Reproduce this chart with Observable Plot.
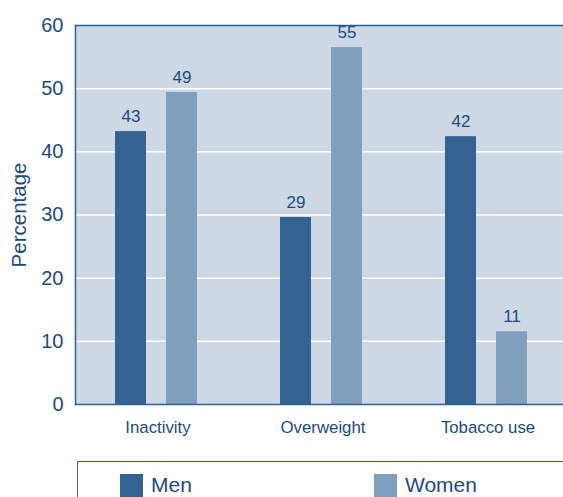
<!DOCTYPE html>
<html>
<head>
<meta charset="utf-8">
<script src="https://cdn.jsdelivr.net/npm/d3@7"></script>
<script src="https://cdn.jsdelivr.net/npm/@observablehq/plot@0.6"></script>
<style>
  body { margin: 0; background: #fff; font-family: "Liberation Sans", Arial, sans-serif; overflow: hidden; }
  #legend { margin-left: 77px; margin-top: 16px; border-top: 1.5px solid #2f5f93; border-left: 1.5px solid #2f5f93; height: 60px; position: relative; }
  .item { position: absolute; top: 11px; display: flex; align-items: center; font-size: 21px; color: #1c4a80; }
  .sw { width: 23px; height: 23px; margin-right: 8px; }
</style>
</head>
<body>
<div id="chart"></div>
<div id="legend"></div>
<script>
const categories = ["Inactivity", "Overweight", "Tobacco use"];
const menValues = [43.2, 29.6, 42.4];
const womenValues = [49.4, 56.5, 11.5];
const menLabels = ["43", "29", "42"];
const womenLabels = ["49", "55", "11"];
const yTicks = [0, 10, 20, 30, 40, 50, 60];
const series = ["Men", "Women"];
const colors = ["#346291", "#809fbc"];

const men = categories.map((c, i) => ({cat: c, value: menValues[i], label: menLabels[i]}));
const women = categories.map((c, i) => ({cat: c, value: womenValues[i], label: womenLabels[i]}));

const W = 563, H = 445, ML = 75, XR = 570;
const bw = (XR - ML) / 3;
const textColor = "#1c4a80";
const border = "#2f5f93";

const chart = Plot.plot({
  width: W, height: H,
  marginLeft: ML, marginRight: 0, marginTop: 25, marginBottom: H - 404,
  style: {fontFamily: "Liberation Sans, Arial, sans-serif", color: textColor, background: "#fff", overflow: "hidden"},
  x: {domain: categories, padding: 0, label: null, range: [ML, XR]},
  y: {domain: [0, 60], label: null},
  marks: [
    Plot.frame({fill: "#cdd8e4", stroke: null}),
    Plot.ruleY(yTicks.filter(d => d > 0 && d < 60), {stroke: "#fff", strokeWidth: 1.5}),
    Plot.barY(men, {x: "cat", y: "value", fill: colors[0], insetLeft: 40, insetRight: bw - 71}),
    Plot.barY(women, {x: "cat", y: "value", fill: colors[1], insetLeft: 91, insetRight: bw - 122}),
    Plot.text(men, {x: "cat", y: "value", text: "label", dx: 55.5 - bw / 2, dy: -15, fontSize: 17, fill: textColor}),
    Plot.text(women, {x: "cat", y: "value", text: "label", dx: 106.5 - bw / 2, dy: -15, fontSize: 17, fill: textColor}),
    Plot.frame({anchor: "top", stroke: border, strokeWidth: 1.5}),
    Plot.frame({anchor: "left", stroke: border, strokeWidth: 1.5}),
    Plot.frame({anchor: "bottom", stroke: border, strokeWidth: 1.5}),
    Plot.axisY({ticks: yTicks, tickSize: 0, tickPadding: 12, fontSize: 20, fill: textColor, label: null}),
    Plot.axisX({tickSize: 0, tickPadding: 17, fontSize: 16.8, fill: textColor, label: null}),
    Plot.text(["Percentage"], {frameAnchor: "left", dx: -56, rotate: -90, textAnchor: "middle", fontSize: 20.5, fill: textColor})
  ]
});
document.getElementById("chart").appendChild(chart);

const legend = document.getElementById("legend");
const lefts = [42, 296];
series.forEach((s, i) => {
  const it = document.createElement("div");
  it.className = "item";
  it.style.left = lefts[i] + "px";
  it.innerHTML = `<div class="sw" style="background:${colors[i]}"></div><span>${s}</span>`;
  legend.appendChild(it);
});
</script>
</body>
</html>
